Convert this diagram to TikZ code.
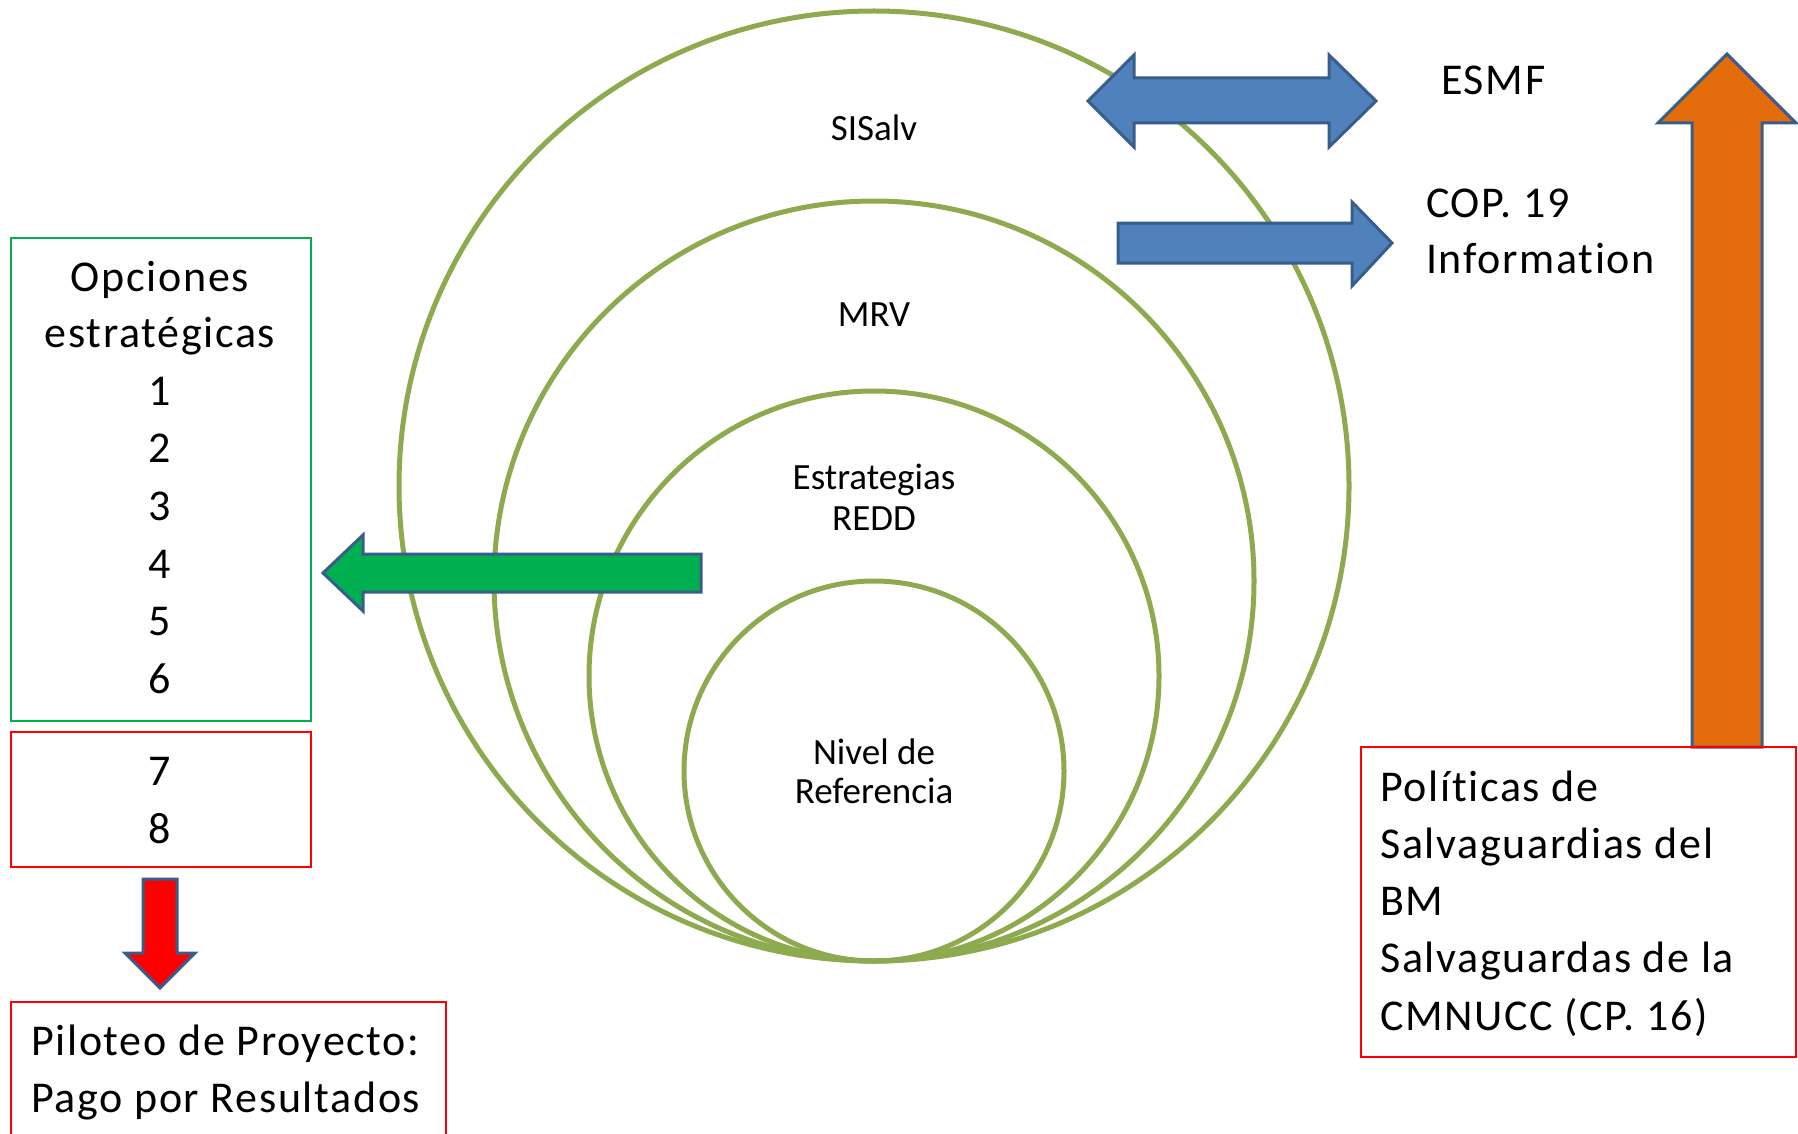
\documentclass[tikz,border=0pt]{standalone}
\usepackage{fontspec}
\setmainfont{Carlito}
\newfontfamily\bigfont[LetterSpace=3.8,Ligatures=NoCommon]{Carlito}
\definecolor{ringgreen}{RGB}{141,170,79}
\definecolor{arrowline}{RGB}{56,93,138}
\definecolor{bluefill}{RGB}{79,129,189}
\definecolor{greenfill}{RGB}{0,176,80}
\definecolor{orangefill}{RGB}{228,108,10}
\definecolor{redfill}{RGB}{255,0,0}
\tikzset{
  ring/.style={circle,draw=ringgreen,line width=5pt,inner sep=0pt,outer sep=0pt},
  blockarrow/.style={draw=arrowline,line width=3pt,line join=miter},
  gbox/.style={draw=greenfill,line width=2pt,rectangle,inner sep=0pt,anchor=north west},
  rbox/.style={draw=redfill,line width=2pt,rectangle,inner sep=0pt,anchor=north west},
  bigtxt/.style={font=\bigfont\fontsize{44}{57}\selectfont,inner sep=0pt},
  ringtxt/.style={font=\fontsize{37}{41}\selectfont,inner sep=0pt,anchor=base},
}
\begin{document}
\begin{tikzpicture}[x=1pt,y=-1pt]
\useasboundingbox (0,0) rectangle (1798,1134);
% rings
\node[ring,minimum size=950pt] (sisalv) at (874,486) {};
\node[ring,minimum size=760pt] (mrv) at (874,581) {};
\node[ring,minimum size=570pt] (redd) at (874,676) {};
\node[ring,minimum size=380pt] (nivel) at (874,771) {};
% ring labels
\node[ringtxt] (tsisalv) at (874,141) {SISalv};
\node[ringtxt] (tmrv) at (874,326) {MRV};
\node[ringtxt] (tredd1) at (874,489) {Estrategias};
\node[ringtxt] (tredd2) at (874,530) {REDD};
\node[ringtxt] (tniv1) at (874,764) {Nivel de};
\node[ringtxt] (tniv2) at (874,803) {Referencia};
% blue double arrow
\draw[blockarrow,fill=bluefill] (1088,101) -- (1134,55) -- (1134,78) -- (1329,78) -- (1329,55)
  -- (1376,101) -- (1329,147) -- (1329,123) -- (1134,123) -- (1134,147) -- cycle;
% COP arrow
\draw[blockarrow,fill=bluefill] (1118,223) -- (1352,223) -- (1352,202) -- (1392,243)
  -- (1352,286) -- (1352,263) -- (1118,263) -- cycle;
% green arrow
\draw[blockarrow,fill=greenfill] (323,573) -- (363,535) -- (363,554) -- (701,554)
  -- (701,592) -- (363,592) -- (363,611) -- cycle;
% orange arrow
\draw[blockarrow,fill=orangefill] (1727,54) -- (1796,123) -- (1762,123) -- (1762,747)
  -- (1692,747) -- (1692,123) -- (1658,123) -- cycle;
% red arrow
\draw[blockarrow,fill=redfill] (160,988) -- (125,953) -- (143,953) -- (143,879)
  -- (177,879) -- (177,953) -- (195,953) -- cycle;
% boxes
\node[gbox,minimum width=300pt,minimum height=483pt] (opbox) at (10,237) {};
\node[rbox,minimum width=300pt,minimum height=135pt] (sbox) at (10,731) {};
\node[rbox,minimum width=435pt,minimum height=160pt] (pbox) at (10,1001) {};
\node[rbox,minimum width=435pt,minimum height=310pt] (polbox) at (1360,746) {};
% box texts
\node[bigtxt,anchor=base] (op1) at (160,291) {Opciones};
\node[bigtxt,anchor=base] (op2) at (160,347) {estratégicas};
\node[bigtxt,anchor=base] (n1) at (160,405) {1};
\node[bigtxt,anchor=base] (n2) at (160,462) {2};
\node[bigtxt,anchor=base] (n3) at (160,520) {3};
\node[bigtxt,anchor=base] (n4) at (160,578) {4};
\node[bigtxt,anchor=base] (n5) at (160,635) {5};
\node[bigtxt,anchor=base] (n6) at (160,693) {6};
\node[bigtxt,anchor=base] (n7) at (160,785) {7};
\node[bigtxt,anchor=base] (n8) at (160,843) {8};
\node[bigtxt,anchor=base west] (pil1) at (31,1055) {Piloteo de Proyecto:};
\node[bigtxt,anchor=base west] (pil2) at (31,1112) {Pago por Resultados};
\node[bigtxt,anchor=base west] (pol1) at (1380,801) {Políticas de};
\node[bigtxt,anchor=base west] (pol2) at (1380,858) {Salvaguardias del};
\node[bigtxt,anchor=base west] (pol3) at (1380,915) {BM};
\node[bigtxt,anchor=base west] (pol4) at (1380,972) {Salvaguardas de la};
\node[bigtxt,anchor=base west] (pol5) at (1380,1030) {CMNUCC (CP. 16)};
\node[bigtxt,anchor=base west] (esmf) at (1441,95) {ESMF};
\node[bigtxt,anchor=base west] (cop1) at (1426,217) {COP. 19};
\node[bigtxt,anchor=base west] (cop2) at (1426,273) {Information};
\end{tikzpicture}
\end{document}
